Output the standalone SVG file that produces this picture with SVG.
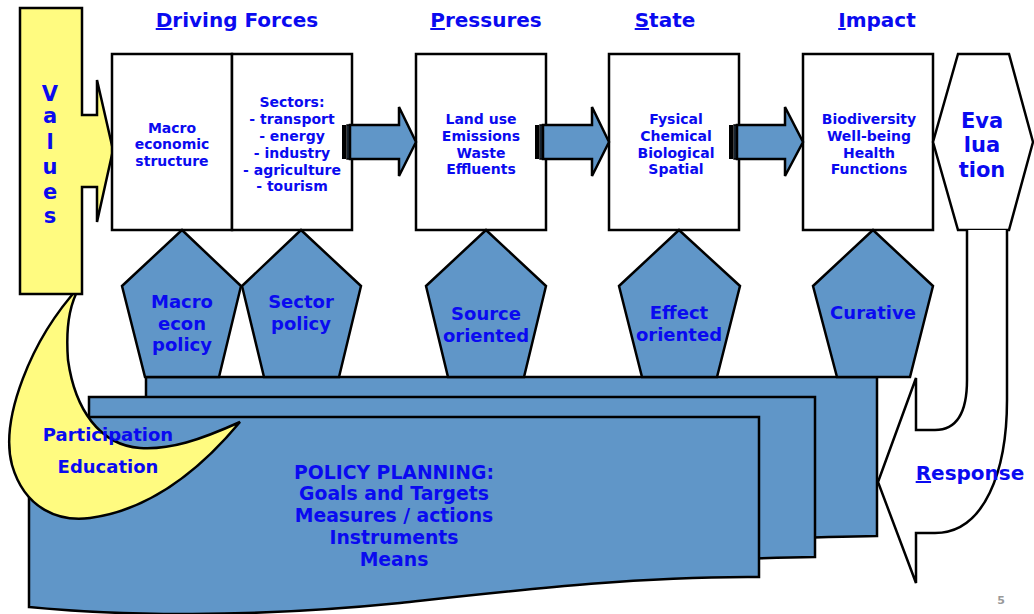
<svg xmlns="http://www.w3.org/2000/svg" width="1034" height="614" viewBox="0 0 1034 614">
<style>
.s{stroke:#000;stroke-width:2.5;stroke-linejoin:miter}
.b{fill:#6096C8}
.w{fill:#fff}
.y{fill:#FFFB80}
text{font-family:"DejaVu Sans","Verdana",sans-serif;font-weight:bold;fill:#0A0AF0;text-anchor:middle}
.t14{font-size:14px}
.t18{font-size:18px}
.t20{font-size:20px}
.t21{font-size:21px}
.pp{font-size:18.8px}
</style>
<rect width="1034" height="614" fill="#fff"/>

<g id="policy-planning">
<path class="s b" d="M146,377 H877 V536 C700,538 400,560 146,560 Z"/>
<path class="s b" d="M89,397 H815 V557 C600,560 300,585 89,585 Z"/>
<path class="s b" d="M29,417 H759 V577 C640,576 520,590 400,603 C250,618 120,616 29,607 Z"/>
<text class="pp"><tspan x="394" y="479">POLICY PLANNING:</tspan><tspan x="394" y="500">Goals and Targets</tspan><tspan x="394" y="522">Measures / actions</tspan><tspan x="394" y="544">Instruments</tspan><tspan x="394" y="566">Means</tspan></text>
</g>

<g id="participation">
<path class="s y" d="M80,286 C30,340 0,420 12,465 C25,510 60,522 90,518 C150,510 200,470 240,422 C200,440 170,450 140,448 C100,445 75,410 68,360 C65,320 72,300 80,286 Z"/>
<text class="t18" x="108" y="441">Participation</text>
<text class="t18" x="108" y="473">Education</text>
</g>

<g id="values">
<path class="s y" d="M20,8 H82 V115 H97 V80 L113,150 L97,222 V187 H82 V294 H20 Z"/>
<text class="t21"><tspan x="50" y="101">V</tspan><tspan x="50" y="123">a</tspan><tspan x="50" y="149">l</tspan><tspan x="50" y="174">u</tspan><tspan x="50" y="199">e</tspan><tspan x="50" y="223">s</tspan></text>
</g>

<g id="headers">
<text class="t20" x="237" y="27"><tspan text-decoration="underline">D</tspan>riving Forces</text>
<text class="t20" x="486" y="27"><tspan text-decoration="underline">P</tspan>ressures</text>
<text class="t20" x="665" y="27"><tspan text-decoration="underline">S</tspan>tate</text>
<text class="t20" x="877" y="27"><tspan text-decoration="underline">I</tspan>mpact</text>
</g>

<g id="macro-structure">
<rect class="s w" x="112" y="54" width="120" height="176"/>
<text class="t14"><tspan x="172" y="133">Macro</tspan><tspan x="172" y="149">economic</tspan><tspan x="172" y="166">structure</tspan></text>
</g>
<g id="sectors">
<rect class="s w" x="232" y="54" width="120" height="176"/>
<text class="t14"><tspan x="292" y="107">Sectors:</tspan><tspan x="292" y="124">- transport</tspan><tspan x="292" y="141">- energy</tspan><tspan x="292" y="158">- industry</tspan><tspan x="292" y="175">- agriculture</tspan><tspan x="292" y="191">- tourism</tspan></text>
</g>
<g id="pressures">
<rect class="s w" x="416" y="54" width="130" height="176"/>
<text class="t14"><tspan x="481" y="124">Land use</tspan><tspan x="481" y="141">Emissions</tspan><tspan x="481" y="158">Waste</tspan><tspan x="481" y="174">Effluents</tspan></text>
</g>
<g id="state">
<rect class="s w" x="609" y="54" width="130" height="176"/>
<text class="t14"><tspan x="676" y="124">Fysical</tspan><tspan x="676" y="141">Chemical</tspan><tspan x="676" y="158">Biological</tspan><tspan x="676" y="174">Spatial</tspan></text>
</g>
<g id="impact">
<rect class="s w" x="803" y="54" width="130" height="176"/>
<text class="t14"><tspan x="869" y="124">Biodiversity</tspan><tspan x="869" y="141">Well-being</tspan><tspan x="869" y="158">Health</tspan><tspan x="869" y="174">Functions</tspan></text>
</g>
<g id="evaluation">
<path class="s w" d="M958,54 H1009 L1033,142 L1009,230 H958 L933,142 Z"/>
<text class="t21"><tspan x="982" y="128">Eva</tspan><tspan x="982" y="152">lua</tspan><tspan x="982" y="177">tion</tspan></text>
</g>

<g id="macro-econ-policy">
<path class="s b" d="M182,230 L241,286 L219,377 H145 L122,286 Z"/>
<text class="t18"><tspan x="182" y="308">Macro</tspan><tspan x="182" y="330">econ</tspan><tspan x="182" y="351">policy</tspan></text>
</g>
<g id="sector-policy">
<path class="s b" d="M301,230 L361,286 L339,377 H264 L242,286 Z"/>
<text class="t18"><tspan x="301" y="308">Sector</tspan><tspan x="301" y="330">policy</tspan></text>
</g>
<g id="source-oriented">
<path class="s b" d="M486,230 L546,286 L524,377 H448 L426,286 Z"/>
<text class="t18"><tspan x="486" y="320">Source</tspan><tspan x="486" y="342">oriented</tspan></text>
</g>
<g id="effect-oriented">
<path class="s b" d="M679,230 L740,286 L717,377 H642 L619,286 Z"/>
<text class="t18"><tspan x="679" y="319">Effect</tspan><tspan x="679" y="341">oriented</tspan></text>
</g>
<g id="curative">
<path class="s b" d="M873,230 L933,286 L910,377 H837 L813,286 Z"/>
<text class="t18" x="873" y="319">Curative</text>
</g>

<g id="connectors">
<rect x="342" y="125" width="4" height="34" fill="#000"/>
<rect class="b" x="347" y="125" width="2" height="34" stroke="#000" stroke-width="1.5"/>
<path class="s b" d="M350,125 H399 V107 L416,142 L399,176 V159 H350 Z"/>
<rect x="535" y="125" width="4" height="34" fill="#000"/>
<rect class="b" x="540" y="125" width="2" height="34" stroke="#000" stroke-width="1.5"/>
<path class="s b" d="M543,125 H592 V107 L609,142 L592,176 V159 H543 Z"/>
<rect x="729" y="125" width="4" height="34" fill="#000"/>
<rect class="b" x="734" y="125" width="2" height="34" stroke="#000" stroke-width="1.5"/>
<path class="s b" d="M737,125 H785 V107 L803,142 L785,176 V159 H737 Z"/>
<g id="response">
<path class="s w" d="M967,230 V380 C967,415 955,430 935,430 H916 V378 L878,482 L916,583 V533 H935 C985,533 1007,470 1007,400 V230"/>
<text class="t20" x="970" y="480"><tspan text-decoration="underline">R</tspan>esponse</text>
</g>
</g>

<text x="1001" y="604" style="font-size:11px;fill:#999">5</text>
</svg>
